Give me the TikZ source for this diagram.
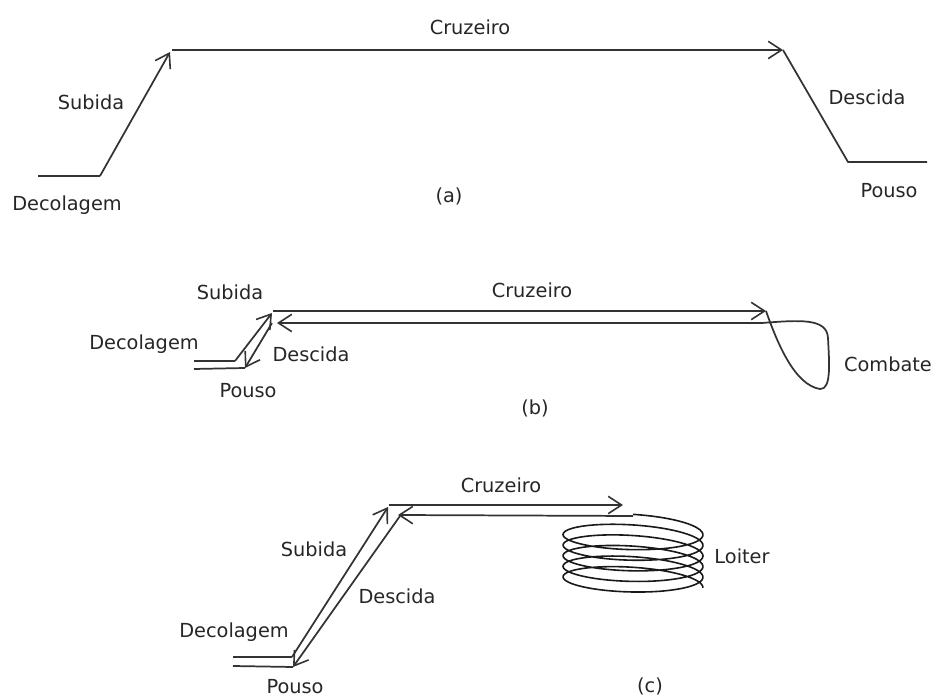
\documentclass[tikz,border=0pt]{standalone}
\usepackage{fontspec}
\setmainfont{DejaVu Sans}
\usetikzlibrary{arrows.meta}

\begin{document}
\begin{tikzpicture}[
    x=0.75pt, y=-0.75pt,
    lbl/.style={font=\fontsize{14.5}{17}\selectfont, text=black!85, inner sep=0pt},
    leg/.style={line width=1.3pt, draw=black!80, line join=round},
    arr/.style={leg, -{Straight Barb[length=10pt,width=13pt,line width=1.2pt]}},
]
\useasboundingbox (0,0) rectangle (936,698);

% (a) simple mission
\coordinate (aTo) at (38,176);
\coordinate (aCl) at (100,176);
\coordinate (aTop) at (170,52);
\coordinate (aCr) at (172,50);
\coordinate (aEnd) at (783,50);
\coordinate (aLd) at (848,162);
\coordinate (aOut) at (927,162);
\draw[leg] (aTo) -- (aCl);
\draw[arr] (aCl) -- (aTop);
\draw[arr] (aCr) -- (aEnd);
\draw[leg] (aEnd) -- (aLd) -- (aOut);
\node[lbl] (aCruz) at (470,27) {Cruzeiro};
\node[lbl] (aSub) at (91,102) {Subida};
\node[lbl] (aDes) at (867,97) {Descida};
\node[lbl] (aDec) at (67,205) {Decolagem};
\node[lbl] (aPou) at (889,191) {Pouso};
\node[lbl] (aCap) at (449,196) {(a)};

% (b) combat mission
\coordinate (bTo) at (194,361);
\coordinate (bCl) at (235,361);
\coordinate (bTop) at (272,313);
\coordinate (bCr) at (273,311);
\coordinate (bOut) at (766,311);
\coordinate (bBack) at (762,323);
\coordinate (bRet) at (277,323);
\coordinate (bDs) at (272,323);
\coordinate (bLd) at (245,368);
\coordinate (bEnd) at (194,369);
\draw[leg] (bTo) -- (bCl);
\draw[arr] (bCl) -- (bTop);
\draw[arr] (bCr) -- (bOut);
% combat loop
\draw[leg] (bOut) .. controls (778,345) and (795,385) .. (820,389)
    .. controls (832,390) and (829,360) .. (828,338)
    .. controls (827,318) and (800,320) .. (bBack);
\draw[arr] (bBack) -- (bRet);
\draw[arr] (bDs) -- (bLd);
\draw[leg] (bLd) -- (bEnd);
\node[lbl] (bCruz) at (532,290) {Cruzeiro};
\node[lbl] (bSub) at (230,292) {Subida};
\node[lbl] (bDec) at (144,344) {Decolagem};
\node[lbl] (bDes) at (311,354) {Descida};
\node[lbl] (bPou) at (248,391) {Pouso};
\node[lbl] (bCmb) at (888,364) {Combate};
\node[lbl] (bCap) at (535,408) {(b)};

% (c) loiter mission
\coordinate (cTo) at (233,657);
\coordinate (cCl) at (292,657);
\coordinate (cTop) at (388,507);
\coordinate (cCr) at (389,505);
\coordinate (cOut) at (623,505);
\coordinate (cBack) at (633,516);
\coordinate (cRet) at (398,515);
\coordinate (cDs) at (400,516);
\coordinate (cLd) at (293,667);
\coordinate (cEnd) at (233,666);
\draw[leg] (cTo) -- (cCl);
\draw[arr] (cCl) -- (cTop);
\draw[arr] (cCr) -- (cOut);
% loiter coil
\draw[leg, line width=1.2pt, draw=black!90] plot[domain=-90:1800, samples=260, smooth]
    ({633+70*cos(\x)}, {532+15*sin(\x)+\x/34+0.04*70*cos(\x)});
\draw[arr] (cBack) -- (cRet);
\draw[arr] (cDs) -- (cLd);
\draw[leg] (cLd) -- (cEnd);
\node[lbl] (cCruz) at (501,485) {Cruzeiro};
\node[lbl] (cSub) at (314,549) {Subida};
\node[lbl] (cDes) at (397,596) {Descida};
\node[lbl] (cDec) at (234,632) {Decolagem};
\node[lbl] (cPou) at (295,687) {Pouso};
\node[lbl] (cLoi) at (742,556) {Loiter};
\node[lbl] (cCap) at (650,686) {(c)};
\end{tikzpicture}
\end{document}
